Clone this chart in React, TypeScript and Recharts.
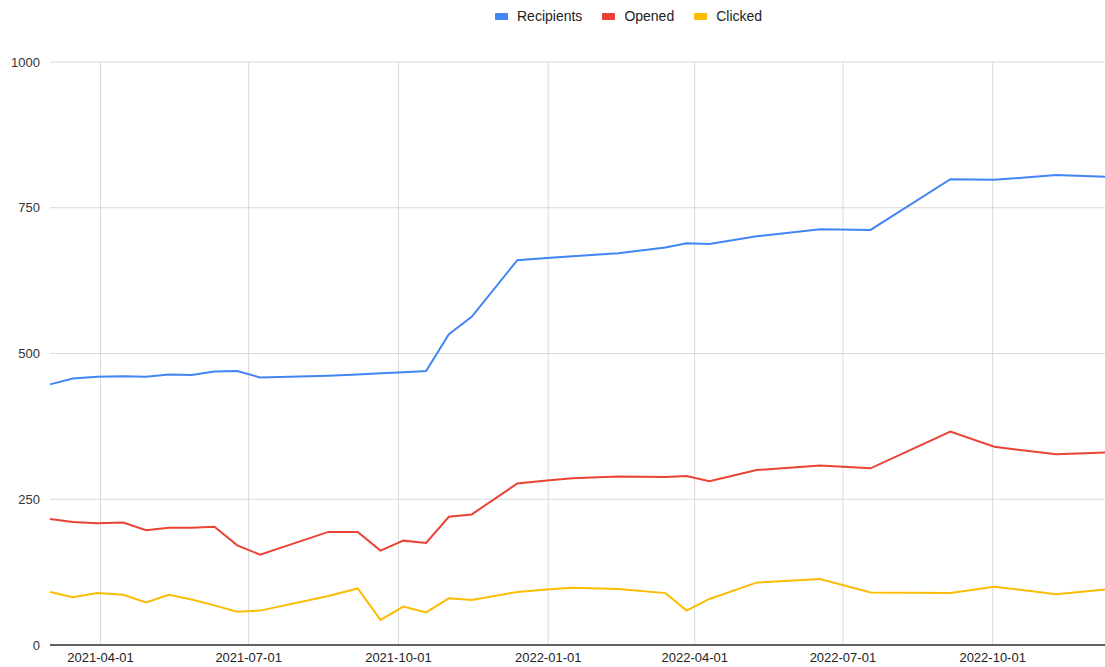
import { LineChart, Line, XAxis, YAxis, CartesianGrid, ReferenceLine } from 'recharts';

const dates = [
  '2021-03-01', '2021-03-15', '2021-03-30', '2021-04-15', '2021-04-29', '2021-05-13',
  '2021-05-27', '2021-06-10', '2021-06-24', '2021-07-08', '2021-08-19', '2021-09-06',
  '2021-09-20', '2021-10-04', '2021-10-18', '2021-11-01', '2021-11-15', '2021-12-13',
  '2021-12-31', '2022-01-16', '2022-02-13', '2022-03-14', '2022-03-27', '2022-04-10',
  '2022-05-09', '2022-06-17', '2022-07-18', '2022-09-05', '2022-10-02', '2022-11-09',
  '2022-12-09',
];

const recipients = [
  447, 457, 460, 461, 460, 464, 463, 469, 470, 459, 462, 464, 466, 468, 470, 533,
  563, 660, 664, 667, 672, 682, 689, 688, 701, 713, 712, 799, 798, 806, 803,
];

const opened = [
  216, 211, 209, 210, 197, 201, 201, 203, 171, 155, 194, 194, 162, 179, 175, 220,
  224, 277, 282, 286, 289, 288, 290, 281, 300, 308, 303, 366, 340, 327, 330,
];

const clicked = [
  91, 82, 89, 86, 73, 86, 78, 68, 57, 59, 84, 97, 43, 66, 56, 80,
  77, 91, 95, 98, 96, 89, 59, 79, 107, 113, 90, 89, 100, 87, 95,
];

const tickDates = [
  '2021-04-01', '2021-07-01', '2021-10-01', '2022-01-01', '2022-04-01', '2022-07-01', '2022-10-01',
];

const yTicks = [0, 250, 500, 750, 1000];

const series = [
  { key: 'recipients', name: 'Recipients', color: '#4285F4' },
  { key: 'opened', name: 'Opened', color: '#EA4335' },
  { key: 'clicked', name: 'Clicked', color: '#FBBC04' },
];

const toTime = (d: string) => Date.parse(d + 'T00:00:00Z');

const data = dates.map((d, i) => ({
  t: toTime(d),
  recipients: recipients[i],
  opened: opened[i],
  clicked: clicked[i],
}));

const fmtDate = (v: number) => new Date(v).toISOString().slice(0, 10);

const FONT = '"Liberation Sans", Arial, sans-serif';
const GRID = '#d9d9d9';

// legend is plain html so it doesn't eat into the plot area
function ChartLegend() {
  return (
    <div
      style={{
        position: 'absolute',
        top: 7,
        left: 495,
        display: 'flex',
        alignItems: 'center',
        fontFamily: FONT,
        fontSize: 14,
        color: '#222',
        lineHeight: '18px',
      }}
    >
      {series.map(s => (
        <div key={s.key} style={{ display: 'flex', alignItems: 'center', marginRight: 20 }}>
          <span
            style={{ width: 13, height: 7, background: s.color, borderRadius: 1, marginRight: 9, display: 'inline-block' }}
          />
          <span>{s.name}</span>
        </div>
      ))}
    </div>
  );
}

export default function App() {
  return (
    <div style={{ position: 'absolute', left: 0, top: 0, width: 1105, height: 667, background: '#fff' }}>
      <ChartLegend />
      <LineChart width={1105} height={667} data={data} margin={{ top: 62, right: 0, bottom: 0, left: 0 }}>
        <CartesianGrid stroke={GRID} strokeWidth={1} vertical={false} />
        {/* vertical grid only at the date ticks, no border at the plot edges */}
        {tickDates.map(d => (
          <ReferenceLine key={d} x={toTime(d)} stroke={GRID} strokeWidth={1} />
        ))}
        <XAxis
          dataKey="t"
          type="number"
          scale="time"
          domain={['dataMin', 'dataMax']}
          ticks={tickDates.map(toTime)}
          tickFormatter={fmtDate}
          height={22}
          tickLine={false}
          axisLine={{ stroke: '#333', strokeWidth: 1.5 }}
          tick={{ fill: '#222', fontSize: 13, fontFamily: FONT }}
          tickMargin={2}
        />
        <YAxis
          domain={[0, 1000]}
          ticks={yTicks}
          width={50}
          tickLine={false}
          axisLine={false}
          tick={{ fill: '#333', fontSize: 13, fontFamily: FONT }}
          tickMargin={4}
        />
        {series.map(s => (
          <Line
            key={s.key}
            type="linear"
            dataKey={s.key}
            name={s.name}
            stroke={s.color}
            strokeWidth={2}
            dot={false}
            isAnimationActive={false}
          />
        ))}
      </LineChart>
    </div>
  );
}
